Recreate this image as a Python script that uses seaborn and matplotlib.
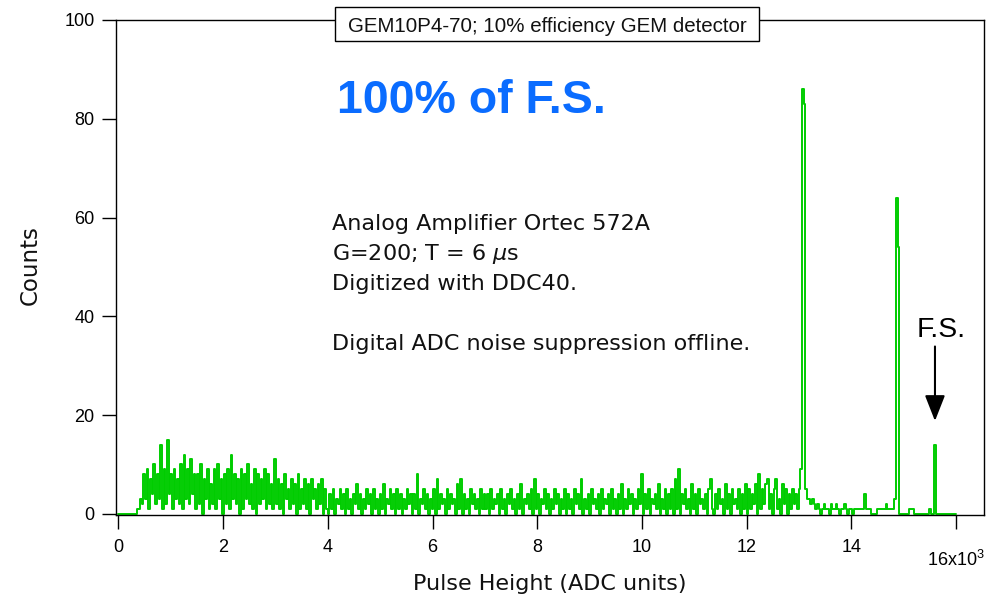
import numpy as np
import pandas as pd
import matplotlib
matplotlib.use("Agg")
import matplotlib.pyplot as plt
from matplotlib.patches import Rectangle
import seaborn as sns

# ---------------------------------------------------------------------------
# Pulse-height spectrum, 32 ADC units per channel, channel 0 starts at 0.
# ---------------------------------------------------------------------------
BIN_WIDTH = 32
ADC_MAX = 16000

# channels 0-13: below the discriminator threshold
below_threshold = [0, 0, 0, 0, 0, 0, 0, 0, 0, 0, 0, 1, 1, 3]

# channels 14-45 (448-1440)
continuum_a = [2, 8, 3, 9, 1, 7, 4, 10, 2, 8, 3, 14, 1, 9, 2, 15,
               4, 8, 1, 9, 3, 7, 2, 10, 1, 12, 3, 9, 2, 11, 4, 8]

# channels 46-93 (1472-2976)
continuum_b = [1, 8, 2, 10, 0, 7, 3, 9, 1, 6, 2, 9, 1, 10, 3, 7,
               0, 8, 2, 9, 1, 12, 3, 8, 2, 7, 0, 9, 1, 8, 3, 10,
               2, 6, 1, 9, 0, 8, 2, 7, 3, 9, 1, 8, 2, 6, 1, 11]

# channels 94-124 (3008-3968)
continuum_c = [2, 7, 1, 6, 0, 8, 3, 5, 1, 7, 2, 6, 0, 8, 1, 5,
               2, 7, 1, 6, 0, 7, 3, 5, 1, 6, 2, 7, 0, 5, 1]

# channels 125-218 (4000-6976)
continuum_d = [0, 4, 1, 5, 0, 3, 2, 5, 1, 4,
               0, 5, 1, 3, 0, 4, 2, 6, 1, 4,
               0, 3, 1, 5, 2, 4, 0, 5, 1, 3,
               0, 4, 1, 6, 0, 3, 2, 5, 1, 4,
               0, 5, 1, 4, 0, 3, 1, 5, 2, 4,
               0, 4, 1, 8, 0, 3, 2, 5, 1, 4,
               0, 3, 1, 5, 0, 7, 1, 4, 2, 3,
               0, 5, 1, 4, 2, 3, 0, 6, 1, 7,
               0, 4, 1, 3, 0, 5, 2, 4, 1, 3,
               0, 5, 1, 4]

# channels 219-312 (7008-9984)
continuum_e = [1, 4, 0, 5, 1, 3, 2, 4, 0, 5,
               1, 3, 0, 4, 2, 5, 1, 3, 0, 4,
               1, 6, 0, 3, 2, 4, 1, 5, 0, 7,
               1, 4, 0, 3, 2, 5, 1, 4, 0, 3,
               1, 5, 2, 4, 0, 3, 1, 5, 0, 4,
               1, 3, 0, 5, 2, 4, 1, 7, 0, 3,
               1, 4, 0, 5, 2, 3, 1, 4, 0, 5,
               1, 3, 2, 4, 0, 5, 1, 3, 0, 4,
               1, 6, 0, 3, 1, 5, 2, 4, 0, 3,
               1, 5, 2, 8]

# channels 313-374 (10016-11968)
continuum_f = [0, 4, 1, 5, 0, 3, 2, 4, 1, 6,
               0, 3, 1, 5, 0, 4, 1, 5, 0, 7,
               1, 9, 0, 4, 2, 5, 1, 3, 0, 6,
               1, 4, 0, 5, 2, 3, 1, 4, 0, 5,
               7, 1, 0, 4, 1, 5, 2, 3, 0, 6,
               1, 4, 0, 5, 2, 3, 1, 5, 0, 4,
               1, 6]

# channels 375-406 (12000-12992)
continuum_g = [0, 5, 1, 4, 2, 6, 0, 8, 1, 5, 2, 6, 7, 1, 4, 0,
               5, 7, 1, 3, 0, 6, 2, 5, 0, 4, 1, 5, 2, 4, 1, 5]

# channels 407-409: first pulser line
peak_1 = [9, 86, 83]

# channels 410-462 (13120-14784)
between_peaks = [5, 3, 3, 2, 3, 2, 1, 2, 1, 0, 1, 2, 1, 1, 0, 2, 1, 1, 2, 1,
                 0, 1, 1, 2, 1, 0, 1, 1, 0, 1, 1, 1, 1, 1, 1, 4, 1, 1, 1, 0,
                 0, 0, 0, 1, 1, 1, 1, 1, 2, 1, 1, 1, 1]

# channels 463-465: second pulser line
peak_2 = [3, 64, 54]

# channels 466-499 (14912-15968), full-scale line at channel 487
upper_tail = [0, 0, 0, 0, 0, 0, 1, 1, 1, 0, 0, 0, 0, 0, 0, 0, 0, 0, 1, 0,
              0, 14, 0, 0, 0, 0, 0, 0, 0, 0, 0, 0, 0, 0]

counts = np.concatenate([below_threshold, continuum_a, continuum_b, continuum_c,
                         continuum_d, continuum_e, continuum_f, continuum_g,
                         peak_1, between_peaks, peak_2, upper_tail])
centers = np.arange(len(counts)) * BIN_WIDTH + BIN_WIDTH / 2
spectrum = pd.DataFrame({"adc": centers, "counts": counts})

x_ticks = [0, 2000, 4000, 6000, 8000, 10000, 12000, 14000, 16000]
x_tick_labels = ["0", "2", "4", "6", "8", "10", "12", "14", ""]
last_tick_label = r"16x10$^{\mathdefault{3}}$"
y_ticks = [0, 20, 40, 60, 80, 100]

# ---------------------------------------------------------------------------
sns.set_style("ticks")
plt.rcParams["font.family"] = ["Liberation Sans", "DejaVu Sans"]
plt.rcParams["mathtext.fontset"] = "dejavusans"

W, H = 991, 597
fig = plt.figure(figsize=(W / 100, H / 100), dpi=100)
ax = fig.add_axes([116 / W, 1 - 515 / H, 868 / W, 495 / H])

sns.histplot(data=spectrum, x="adc", weights="counts", binwidth=BIN_WIDTH,
             binrange=(0, ADC_MAX), element="step", fill=False,
             color="#00CC00", linewidth=1.4, ax=ax)

ax.set_xlim(-44, 16531)
ax.set_ylim(-0.25, 100)
ax.set_xticks(x_ticks)
ax.set_xticklabels(x_tick_labels)
ax.set_yticks(y_ticks)
ax.tick_params(direction="out", length=10, width=1.0, color="black",
               labelsize=13, labelcolor="black")
ax.tick_params(axis="x", pad=7.5)
ax.tick_params(axis="y", pad=5.5)
for side in ("left", "right", "top", "bottom"):
    ax.spines[side].set_visible(True)
    ax.spines[side].set_linewidth(1.0)
    ax.spines[side].set_color("black")
ax.set_xlabel("")
ax.set_ylabel("")


def px_x(px):
    return (px - 118.3) / 52.37 * 1000


def px_y(py):
    return (513.8 - py) / 4.938


# last tick carries the axis multiplier and sits a little lower
ax.text(16000, px_y(566), last_tick_label, fontsize=13, ha="center",
        va="baseline", color="black", clip_on=False)

# axis titles
fig.text(550 / W, 1 - 590 / H, "Pulse Height (ADC units)", family="DejaVu Sans",
         fontsize=16, ha="center", va="baseline", color="#111111")
fig.text(30.5 / W, 1 - 265 / H, "Counts", family="DejaVu Sans", fontsize=16.5,
         rotation=90, ha="center", va="center", color="#111111")

# headline
ax.text(px_x(336.6), px_y(113.3), "100% of F.S.", fontsize=33.5,
        fontweight="bold", color="#0A6CFF", ha="left", va="baseline")

# setup notes
notes = [("Analog Amplifier Ortec 572A", 230),
         (r"G=200; T = 6 $\mu$s", 260),
         ("Digitized with DDC40.", 290),
         ("Digital ADC noise suppression offline.", 350)]
for line, base in notes:
    ax.text(px_x(332), px_y(base), line, family="DejaVu Sans", fontsize=16,
            ha="left", va="baseline", color="#111111")

# full-scale marker
ax.text(px_x(941), px_y(337), "F.S.", fontsize=20.4, ha="center",
        va="baseline", color="black")
ax.annotate("", xy=(px_x(935), px_y(421)), xytext=(px_x(935), px_y(346.5)),
            arrowprops=dict(arrowstyle="-|>,head_length=1.58,head_width=0.62",
                            mutation_scale=10, lw=1.5, color="black",
                            shrinkA=0, shrinkB=0))

# boxed title straddling the top frame
fig.add_artist(Rectangle((335 / W, 1 - 41 / H), 424 / W, 34 / H,
                         transform=fig.transFigure, facecolor="white",
                         edgecolor="black", linewidth=1.0, zorder=5))
fig.text(547.3 / W, 1 - 31.7 / H, "GEM10P4-70; 10% efficiency GEM detector",
         fontsize=14.8, ha="center", va="baseline", color="#111111", zorder=6)

fig.savefig("out.png", dpi=100)
